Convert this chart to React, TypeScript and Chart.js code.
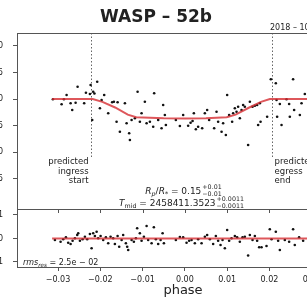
import React, { useEffect, useRef } from 'react';
import { Chart, registerables } from 'chart.js';
Chart.register(...registerables);

const FONT = '"DejaVu Sans", sans-serif';
const SHIFT = 40; // canvas is shifted left so that the y tick labels are cropped as in the reference
const CW = 420;
const CH = 307;

// ---- axis ticks ----
const TOP_TICKS = [0.85, 0.9, 0.95, 1.0, 1.05, 1.1];
const RES_TICKS = [-0.1, 0.0, 0.1];
const X_TICKS = [-0.03, -0.02, -0.01, 0.0, 0.01, 0.02, 0.03];
const X_MIN = -0.0397;
const X_MAX = 0.04;
const TOP_MIN = 0.7925;
const TOP_MAX = 1.1245;
const RES_MIN = -0.1213;
const RES_MAX = 0.1255;

// ---- light-curve data (phase, normalised flux) ----
const PHASE = [
  -0.03121, -0.02915, -0.02861, -0.02797, -0.02702, -0.02664, -0.02584, -0.02537, -0.02381, -0.0234,
  -0.02229, -0.02246, -0.02168, -0.02139, -0.02073, -0.02191, -0.02009, -0.01969, -0.01908, -0.01813,
  -0.01719, -0.01678, -0.01591, -0.01615, -0.01537, -0.01418, -0.01378, -0.01317, -0.013, -0.0126,
  -0.01182, -0.01118, -0.01064, -0.01024, -0.00946, -0.00905, -0.00827, -0.00749, -0.00726, -0.00631,
  -0.00551, -0.00513, -0.00473, -0.00449, -0.00213, -0.00118, -0.0004, 0.00078, 0.00135, 0.00182,
  0.00213, 0.0026, 0.00314, 0.00409, 0.00473, 0.00527, 0.00574, 0.00693, 0.00749, 0.00787,
  0.00868, 0.00905, 0.00969, 0.01, 0.01047, 0.01118, 0.01142, 0.01182, 0.01222, 0.0126,
  0.013, 0.0134, 0.01378, 0.01418, 0.01496, 0.01537, 0.016, 0.01655, 0.01709, 0.01733,
  0.01773, 0.0179, 0.01946, 0.02033, 0.02151, 0.02182, 0.02246, 0.02286, 0.02404, 0.02466,
  0.02482, 0.0256, 0.02584, 0.02719, 0.02759, 0.02837, 0.02168,
];
const FLUX = [
  0.9994, 0.99, 0.9994, 1.0075, 0.9919, 0.9792, 0.993, 1.0232, 0.9919, 1.0119,
  1.0264, 1.0094, 1.0138, 1.0104, 1.0326, 0.9604, 0.9825, 0.9981, 1.0075, 0.973,
  0.9938, 0.9949, 0.9938, 0.9572, 0.9383, 0.9919, 0.9542, 0.9353, 0.9226, 0.9604,
  0.9636, 1.0138, 0.9572, 0.973, 0.9949, 0.9542, 0.9572, 0.9477, 1.0108, 0.9604,
  0.9447, 0.9887, 0.9698, 0.9509, 0.9604, 0.9491, 0.9698, 0.9496, 0.9553, 0.9585,
  0.973, 0.9428, 0.9477, 0.9447, 0.973, 0.9792, 0.9604, 0.9447, 0.976, 0.9572,
  0.9383, 0.9542, 0.9321, 1.0075, 0.9698, 0.9572, 0.973, 0.9825, 0.976, 0.9855,
  0.9636, 0.9792, 0.9887, 0.9855, 0.9132, 0.9949, 0.9855, 0.9874, 0.9887, 0.9509,
  0.9919, 0.9572, 0.9666, 1.0372, 1.0296, 0.9666, 0.9906, 0.9509, 0.9994, 0.9906,
  0.9666, 1.0372, 0.9792, 0.9698, 0.9919, 1.0094, 0.9981,
];

// ---- transit model ----
const MODEL_PHASE = [-0.0314, -0.0218, -0.0195, -0.0165, -0.0135, -0.0115, -0.005, 0.0, 0.005, 0.0099, 0.012, 0.015, 0.018, 0.0201, 0.037];
const MODEL_FLUX = [1.0, 1.0, 0.9945, 0.984, 0.9705, 0.9655, 0.9635, 0.963, 0.9635, 0.9655, 0.9705, 0.983, 0.9945, 1.0, 1.0];

// ---- residuals ----
const RES_PHASE = [
  -0.03073, -0.02939, -0.02877, -0.02813, -0.02759, -0.02702, -0.02655, -0.026, -0.02546, -0.02522,
  -0.02482, -0.02418, -0.02364, -0.0231, -0.02246, -0.02206, -0.02168, -0.02128, -0.02087, -0.0205,
  -0.01993, -0.01931, -0.01868, -0.01813, -0.01757, -0.01695, -0.01655, -0.01591, -0.01553, -0.01496,
  -0.01459, -0.01395, -0.01364, -0.0134, -0.0126, -0.01206, -0.01158, -0.01128, -0.01064, -0.01024,
  -0.00969, -0.00905, -0.00868, -0.00787, -0.00733, -0.00686, -0.00631, -0.00574, -0.00527, -0.00496,
  -0.00213, -0.00118, -0.0004, 0.0004, 0.00102, 0.00158, 0.00236, 0.00314, 0.00395, 0.00473,
  0.00527, 0.00591, 0.00669, 0.00733, 0.00787, 0.00844, 0.00891, 0.00946, 0.01, 0.01047,
  0.01104, 0.01182, 0.01236, 0.013, 0.01364, 0.01418, 0.01496, 0.01537, 0.016, 0.01655,
  0.01709, 0.01757, 0.01813, 0.01931, 0.02009, 0.0205, 0.02151, 0.02206, 0.02246, 0.02364,
  0.02466, 0.0256, 0.026, 0.02702, 0.02797,
];
const RESID = [
  -0.0064, -0.0136, -0.0034, 0.0051, -0.0179, -0.0234, -0.0094, 0.0009, 0.0149, 0.0221,
  -0.0094, -0.0034, 0.0077, -0.0034, 0.0191, -0.0417, 0.0221, 0.0106, 0.0289, 0.0009,
  0.0106, -0.0064, 0.0051, -0.0204, 0.0077, 0.0009, -0.0234, 0.0106, -0.0349, -0.0064,
  0.0149, -0.0204, -0.0349, -0.0489, -0.0064, -0.0136, 0.0009, 0.0434, 0.0221, -0.0094,
  0.0077, 0.0532, -0.0064, -0.0204, 0.0477, -0.0034, -0.0234, -0.0064, 0.0221, -0.0204,
  -0.0064, 0.0064, 0.0051, -0.0179, -0.0094, -0.0064, -0.0204, -0.0034, -0.0204, 0.0077,
  0.0149, -0.0034, -0.0234, 0.0106, -0.0094, -0.0277, -0.0064, -0.0417, 0.0362, -0.0094,
  0.0009, 0.0106, 0.0051, -0.0136, 0.0051, 0.0077, -0.0723, 0.0149, -0.0064, 0.0106,
  -0.0094, -0.0374, -0.0374, -0.0319, 0.0391, -0.0034, 0.0289, -0.0094, -0.0489, -0.0064,
  -0.0136, 0.0391, -0.0277, 0.0051, -0.0094,
];
const RES_MODEL_PHASE = [-0.0314, 0.037];
const RES_MODEL = [0, 0];

// ---- predicted ingress / egress markers ----
const INGRESS_START = -0.0223;
const EGRESS_END = 0.0205;
const MARKER_BOTTOM = 0.89;

const fmt = (v: number, d: number) => (v < -1e-9 ? '\u2212' : '') + Math.abs(v).toFixed(d);

type Seg = { t?: string; stack?: [string, string]; sub?: boolean; it?: boolean };

function drawRich(ctx: CanvasRenderingContext2D, segs: Seg[], x: number, y: number, size: number, align: 'left' | 'center' | 'right') {
  const small = size * 0.7;
  const fontOf = (s: Seg) => `${s.it ? 'italic ' : ''}${s.sub || s.stack ? small : size}px ${FONT}`;
  const widths = segs.map((s) => {
    ctx.font = fontOf(s);
    if (s.stack) return Math.max(ctx.measureText(s.stack[0]).width, ctx.measureText(s.stack[1]).width);
    return ctx.measureText(s.t || '').width;
  });
  const total = widths.reduce((a, b) => a + b, 0);
  let cx = align === 'center' ? x - total / 2 : align === 'right' ? x - total : x;
  ctx.textAlign = 'left';
  ctx.textBaseline = 'alphabetic';
  segs.forEach((s, i) => {
    ctx.font = fontOf(s);
    if (s.stack) {
      ctx.fillText(s.stack[0], cx + 1, y - size * 0.45);
      ctx.fillText(s.stack[1], cx + 1, y + size * 0.28);
    } else {
      ctx.fillText(s.t || '', cx, y + (s.sub ? size * 0.25 : 0));
    }
    cx += widths[i];
  });
}

const panelPlugin = {
  id: 'panels',
  beforeDatasetsDraw(chart: any) {
    const { ctx, scales } = chart;
    const x = scales.x;
    const yT = scales.yTop;
    ctx.save();
    ctx.strokeStyle = '#666';
    ctx.lineWidth = 1;
    ctx.setLineDash([1.5, 2]);
    for (const p of [INGRESS_START, EGRESS_END]) {
      const px = Math.round(x.getPixelForValue(p)) + 0.5;
      ctx.beginPath();
      ctx.moveTo(px, yT.top);
      ctx.lineTo(px, yT.getPixelForValue(MARKER_BOTTOM));
      ctx.stroke();
    }
    ctx.restore();
  },
  afterDraw(chart: any) {
    const { ctx, chartArea, scales } = chart;
    const x = scales.x;
    const yT = scales.yTop;
    const yR = scales.yRes;
    ctx.save();
    // panel frames
    ctx.strokeStyle = '#555';
    ctx.lineWidth = 1;
    ctx.strokeRect(chartArea.left + 0.5, yT.top + 0.5, chartArea.right - chartArea.left, yT.bottom - yT.top);
    ctx.strokeRect(chartArea.left + 0.5, yR.top + 0.5, chartArea.right - chartArea.left, yR.bottom - yR.top);
    // x tick marks of the upper panel
    for (const v of X_TICKS) {
      const px = Math.round(x.getPixelForValue(v)) + 0.5;
      ctx.beginPath();
      ctx.moveTo(px, yT.bottom);
      ctx.lineTo(px, yT.bottom + 4);
      ctx.stroke();
    }
    ctx.fillStyle = '#222';
    // title
    ctx.font = `bold 17px ${FONT}`;
    ctx.textAlign = 'center';
    ctx.textBaseline = 'middle';
    ctx.fillText('WASP \u2013 52b', 156 + SHIFT, 18);
    // date
    ctx.font = `8px ${FONT}`;
    ctx.textAlign = 'left';
    ctx.fillText('2018 \u2013 10 \u2013 19', 270 + SHIFT, 28);
    // predicted ingress / egress labels
    ctx.font = `8.5px ${FONT}`;
    const lx = x.getPixelForValue(INGRESS_START);
    const rx = x.getPixelForValue(EGRESS_END);
    const rows = [162, 172, 181];
    ctx.textAlign = 'right';
    ['predicted', 'ingress', 'start'].forEach((t, i) => ctx.fillText(t, lx - 2, rows[i]));
    ctx.textAlign = 'left';
    ['predicted', 'egress', 'end'].forEach((t, i) => ctx.fillText(t, rx + 3, rows[i]));
    // fit results
    drawRich(ctx, [
      { t: 'R', it: true }, { t: 'p', it: true, sub: true }, { t: '/' }, { t: 'R', it: true }, { t: '*', sub: true },
      { t: ' = 0.15' }, { stack: ['+0.01', '\u22120.01'] },
    ], 183 + SHIFT, 193.5, 9, 'center');
    drawRich(ctx, [
      { t: 'T', it: true }, { t: 'mid', sub: true }, { t: ' = 2458411.3523' }, { stack: ['+0.0011', '\u22120.0011'] },
    ], 181 + SHIFT, 205.5, 9, 'center');
    // rms
    drawRich(ctx, [
      { t: 'rms', it: true }, { t: 'res', it: true, sub: true }, { t: ' = 2.5e \u2212 02' },
    ], 23 + SHIFT, 265, 8, 'left');
    // x label
    ctx.font = `13px ${FONT}`;
    ctx.textAlign = 'center';
    ctx.textBaseline = 'middle';
    ctx.fillText('phase', 183 + SHIFT, 291);
    ctx.restore();
  },
};

const tickFont = { family: FONT, size: 8 };

export default function App() {
  const ref = useRef<HTMLCanvasElement>(null);
  useEffect(() => {
    const canvas = ref.current!;
    const modelColor = 'rgba(214, 45, 50, 0.8)';
    const chart = new Chart(canvas, {
      type: 'scatter',
      data: {
        datasets: [
          {
            type: 'line',
            label: 'model',
            data: MODEL_PHASE.map((p, i) => ({ x: p, y: MODEL_FLUX[i] })),
            yAxisID: 'yTop',
            borderColor: modelColor,
            borderWidth: 2,
            pointRadius: 0,
            fill: false,
            tension: 0,
            order: 0,
          } as any,
          {
            label: 'data',
            data: PHASE.map((p, i) => ({ x: p, y: FLUX[i] })),
            yAxisID: 'yTop',
            pointRadius: 1.3,
            backgroundColor: '#111',
            borderWidth: 0,
            order: 1,
          },
          {
            type: 'line',
            label: 'zero',
            data: RES_MODEL_PHASE.map((p, i) => ({ x: p, y: RES_MODEL[i] })),
            yAxisID: 'yRes',
            borderColor: modelColor,
            borderWidth: 2,
            pointRadius: 0,
            fill: false,
            order: 0,
          } as any,
          {
            label: 'residuals',
            data: RES_PHASE.map((p, i) => ({ x: p, y: RESID[i] })),
            yAxisID: 'yRes',
            pointRadius: 1.3,
            backgroundColor: '#111',
            borderWidth: 0,
            order: 1,
          },
        ],
      },
      options: {
        responsive: false,
        animation: false,
        devicePixelRatio: 1,
        events: [],
        layout: { padding: { left: 0, right: 26, top: 33, bottom: 0 } },
        plugins: { legend: { display: false }, tooltip: { enabled: false }, title: { display: false } },
        scales: {
          x: {
            type: 'linear',
            min: X_MIN,
            max: X_MAX,
            afterBuildTicks: (s: any) => { s.ticks = X_TICKS.map((v) => ({ value: v })); },
            afterFit: (s: any) => { s.height = 40; },
            ticks: { font: tickFont, color: '#222', padding: 4, autoSkip: false, maxRotation: 0, callback: (v: any) => fmt(Number(v), 2) },
            grid: { drawOnChartArea: false, drawTicks: true, tickLength: 4, color: '#555' },
            border: { display: false },
          },
          yTop: {
            type: 'linear',
            position: 'left',
            stack: 'panels',
            stackWeight: 176,
            weight: 1,
            min: TOP_MIN,
            max: TOP_MAX,
            afterBuildTicks: (s: any) => { s.ticks = TOP_TICKS.map((v) => ({ value: v })); },
            afterFit: (s: any) => { s.width = 57; },
            ticks: { font: tickFont, color: '#222', padding: 10, callback: (v: any) => fmt(Number(v), 2) },
            grid: { drawOnChartArea: false, drawTicks: true, tickLength: 4, color: '#555' },
            border: { display: false },
          },
          yRes: {
            type: 'linear',
            position: 'left',
            stack: 'panels',
            stackWeight: 58,
            weight: 0,
            min: RES_MIN,
            max: RES_MAX,
            afterBuildTicks: (s: any) => { s.ticks = RES_TICKS.map((v) => ({ value: v })); },
            afterFit: (s: any) => { s.width = 57; },
            ticks: { font: tickFont, color: '#222', padding: 10, callback: (v: any) => fmt(Number(v), 1) },
            grid: { drawOnChartArea: false, drawTicks: true, tickLength: 4, color: '#555' },
            border: { display: false },
          },
        },
      } as any,
      plugins: [panelPlugin],
    });
    return () => chart.destroy();
  }, []);
  return (
    <div style={{ position: 'fixed', left: 0, top: 0, width: 307, height: 307, overflow: 'hidden', background: '#fff' }}>
      <div style={{ position: 'absolute', left: -SHIFT, top: 0, width: CW, height: CH }}>
        <canvas ref={ref} width={CW} height={CH} style={{ display: 'block', width: CW, height: CH }} />
      </div>
    </div>
  );
}
